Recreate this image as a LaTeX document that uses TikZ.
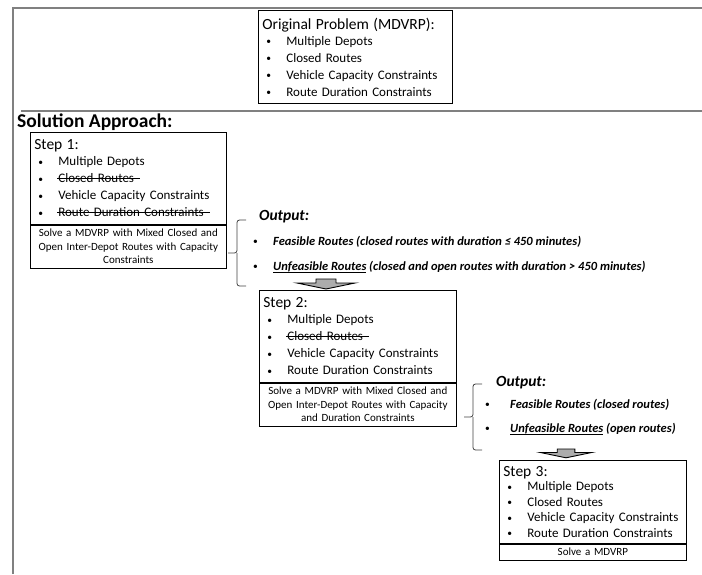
\documentclass[tikz,border=0pt]{standalone}
\usepackage{fontspec}
\setmainfont{Carlito}
\usetikzlibrary{positioning}

\newcommand{\bul}{\raisebox{0.8pt}{\fontsize{9.5}{9.5}\selectfont\upshape\mdseries\textbullet}}
\newcommand{\itm}[1]{\makebox[24pt][l]{\hspace{4pt}\bul}#1}
\newcommand{\hdr}[1]{{\fontsize{15.5}{17}\selectfont #1}}
\newcommand{\outitm}[2][20pt]{\makebox[#1][l]{\bul}#2}
\newcommand{\strk}[1]{\setbox0\hbox{#1}\rlap{\kern-1pt\rule[0.3em]{\dimexpr\wd0+7pt\relax}{0.6pt}}\box0\relax}
\newcommand{\undl}[1]{\setbox0\hbox{#1}\rlap{\rule[-2pt]{\wd0}{0.8pt}}\box0\relax}

\begin{document}
\begin{tikzpicture}[
    x=1pt, y=-1pt,
    frameline/.style={draw=gray, line width=1.8pt},
    listbox/.style={draw, line width=0.7pt, align=left, inner xsep=4pt, inner ysep=7.5pt,
        font=\fontsize{13}{17}\selectfont, anchor=north west},
    solvebox/.style={draw, line width=0.7pt, align=center, inner xsep=4pt, inner ysep=4pt,
        font=\fontsize{11}{13.5}\selectfont},
    outtext/.style={align=left, inner sep=0pt, anchor=north west},
    bracepath/.style={draw=black!75, line width=0.8pt, rounded corners=2.5pt},
    blockarrow/.style={draw=black, line width=0.9pt, fill=gray!65, line join=miter},
    pics/downblock/.style={code={
        \draw[blockarrow] (-10,0) -- (10,0) -- (10,4) -- (29,4) -- (0,10) -- (-29,4) -- (-10,4) -- cycle;
    }},
]
\useasboundingbox (0,0) rectangle (702,574);

% frame
\draw[frameline] (13,574) |- (702,8);
\draw[frameline] (21,111) -- (702,111);

% original problem
\node[listbox, text width=186pt] (orig) at (258,10) {\hdr{Original Problem (MDVRP):}\\[-1pt]
  \itm{Multiple Depots}\\ \itm{Closed Routes}\\ \itm{Vehicle Capacity Constraints}\\ \itm{Route Duration Constraints}};

\node[anchor=west, inner sep=0pt, font=\fontsize{19.5}{22}\selectfont\bfseries] (approach) at (17,122) {Solution Approach:};

% step 1
\node[listbox, text width=188pt] (step1) at (30,132) {\hdr{Step 1:}\\[-1pt]
  \itm{Multiple Depots}\\ \itm{\strk{Closed Routes}}\\ \itm{Vehicle Capacity Constraints}\\ \itm{\strk{Route Duration Constraints}}};
\node[solvebox, text width=188pt, below=0pt of step1] (step1solve) {Solve a MDVRP with Mixed Closed and\\ Open Inter-Depot Routes with Capacity\\ Constraints};

\node[outtext, font=\fontsize{12.5}{25}\selectfont\bfseries\itshape] (out1) at (253,210) {\hspace{6pt}{\fontsize{15.5}{25}\selectfont Output:}\\
  \outitm{Feasible Routes (closed routes with duration ≤ 450 minutes)}\\
  \outitm{\undl{Unfeasible Routes} (closed and open routes with duration > 450 minutes)}};
\coordinate (brace1) at (237,253);
\draw[bracepath] (brace1) ++(9,-33) -| (brace1) -- ++(-9,0);
\draw[bracepath] (brace1) |- ++(9,33);
\pic at (326,279) {downblock};

% step 2
\node[listbox, text width=189pt] (step2) at (259,290) {\hdr{Step 2:}\\[-1pt]
  \itm{Multiple Depots}\\ \itm{\strk{Closed Routes}}\\ \itm{Vehicle Capacity Constraints}\\ \itm{Route Duration Constraints}};
\node[solvebox, text width=189pt, below=0pt of step2] (step2solve) {Solve a MDVRP with Mixed Closed and\\ Open Inter-Depot Routes with Capacity\\ and Duration Constraints};

\node[outtext, font=\fontsize{12.5}{24}\selectfont\bfseries\itshape] (out2) at (485,376) {\hspace{11pt}{\fontsize{15.5}{24}\selectfont Output:}\\[-2pt]
  \outitm[25pt]{Feasible Routes (closed routes)}\\
  \outitm[25pt]{\undl{Unfeasible Routes} (open routes)}};
\coordinate (brace2) at (473,417);
\draw[bracepath] (brace2) ++(9,-33) -| (brace2) -- ++(-9,0);
\draw[bracepath] (brace2) |- ++(9,33);
\pic[scale=0.88] at (566,449) {downblock};

% step 3
\node[listbox, text width=179pt, inner ysep=6pt, font=\fontsize{13}{15.5}\selectfont] (step3) at (499,460) {\hdr{Step 3:}\\[-1pt]
  \itm{Multiple Depots}\\ \itm{Closed Routes}\\ \itm{Vehicle Capacity Constraints}\\ \itm{Route Duration Constraints}};
\node[solvebox, text width=179pt, below=0pt of step3] (step3solve) {Solve a MDVRP};
\end{tikzpicture}
\end{document}
